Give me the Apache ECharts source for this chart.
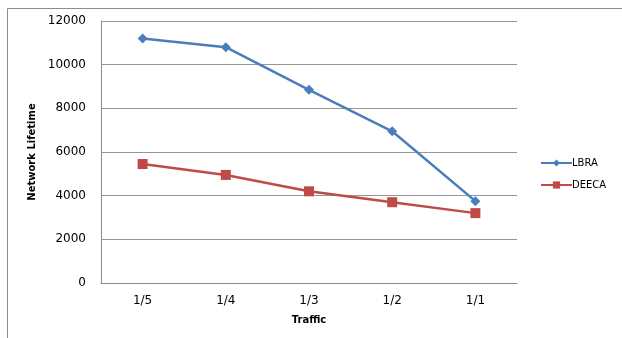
<!DOCTYPE html>
<html>
<head>
<meta charset="utf-8">
<script src="https://cdn.jsdelivr.net/npm/echarts@6/dist/echarts.min.js"></script>
<style>
  html, body { margin: 0; padding: 0; background: #fff; }
  #chart { width: 622px; height: 338px; }
</style>
</head>
<body>
<div id="chart"></div>
<script>
// Traffic load categories along the x axis
const trafficLevels = ['1/5', '1/4', '1/3', '1/2', '1/1'];
// Network lifetime per protocol
const lbraLifetime = [11200, 10800, 8850, 6950, 3750];
const deecaLifetime = [5450, 4950, 4200, 3700, 3200];
// Value axis ticks
const yMin = 0, yMax = 12000, yStep = 2000;

const font = 'Verdana, "DejaVu Sans", sans-serif';
const chart = echarts.init(document.getElementById('chart'), null, { renderer: 'canvas' });

chart.setOption({
  animation: false,
  backgroundColor: '#ffffff',
  graphic: [
    // frame around the chart area (top and left edges)
    { type: 'line', shape: { x1: 7.5, y1: 8.5, x2: 622, y2: 8.5 }, style: { stroke: '#8c8c8c', lineWidth: 1 } },
    { type: 'line', shape: { x1: 7.5, y1: 8.5, x2: 7.5, y2: 338 }, style: { stroke: '#8c8c8c', lineWidth: 1 } }
  ],
  grid: { left: 101, right: 105, top: 21, bottom: 55, containLabel: false },
  legend: {
    orient: 'vertical',
    left: 535,
    top: 153,
    itemWidth: 31,
    itemHeight: 9,
    itemGap: 12,
    textStyle: { fontFamily: font, fontSize: 10, color: '#000', padding: [0, 0, 0, -5] },
    data: ['LBRA', 'DEECA']
  },
  xAxis: {
    type: 'category',
    data: trafficLevels,
    boundaryGap: true,
    name: 'Traffic',
    nameLocation: 'middle',
    nameGap: 32,
    nameTextStyle: { fontFamily: font, fontSize: 10, fontWeight: 'bold', color: '#000' },
    axisLine: { lineStyle: { color: '#8c8c8c', width: 1 } },
    axisTick: { show: false },
    axisLabel: { fontFamily: font, fontSize: 12, color: '#000', margin: 12 }
  },
  yAxis: {
    type: 'value',
    min: yMin,
    max: yMax,
    interval: yStep,
    name: 'Network Lifetime',
    nameLocation: 'middle',
    nameRotate: 90,
    nameGap: 57,
    nameTextStyle: { fontFamily: font, fontSize: 10, fontWeight: 'bold', color: '#000' },
    axisLine: { show: true, lineStyle: { color: '#8c8c8c', width: 1 } },
    axisTick: { show: false },
    splitLine: { lineStyle: { color: '#969696', width: 1 } },
    axisLabel: {
      fontFamily: font, fontSize: 12, color: '#000', margin: 15,
      formatter: (v) => String(v)
    }
  },
  series: [
    {
      name: 'LBRA',
      type: 'line',
      data: lbraLifetime,
      symbol: 'diamond',
      symbolSize: 10,
      lineStyle: { color: '#4a7ebb', width: 2.5 },
      itemStyle: { color: '#4a7ebb' }
    },
    {
      name: 'DEECA',
      type: 'line',
      data: deecaLifetime,
      symbol: 'rect',
      symbolSize: 10,
      lineStyle: { color: '#be4b48', width: 2.5 },
      itemStyle: { color: '#be4b48' }
    }
  ]
});
</script>
</body>
</html>
